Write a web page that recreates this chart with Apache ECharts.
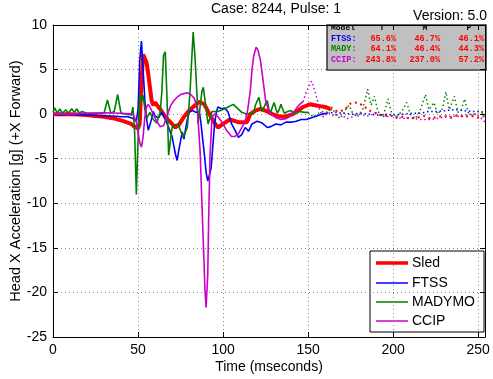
<!DOCTYPE html>
<html><head><meta charset="utf-8">
<script src="https://cdn.jsdelivr.net/npm/echarts@6/dist/echarts.min.js"></script>
<style>html,body{margin:0;padding:0;background:#fff}#c{width:493px;height:379px}</style>
</head><body><div id="c"></div>
<script>
// ---- data (time in ms, acceleration in g) ----
const sledTime  = [0,5,10,15,20,25,30,35,40,43,46,48,50,51,52,53,54,55,56,57,58,59,60,61,62,64,66,68,70,72,74,77,80,83,86,89,92,95,97,100,104,109,114,116,119,122,126,129,132,135,138,141,144,147,151,154,157,160,163];
const sledAccel = [0,0,0,-0.05,-0.1,-0.2,-0.3,-0.45,-0.7,-0.9,-1.1,-1.4,-1.6,-1.0,3.5,6.7,6.5,5.8,4.5,3.0,1.5,1.0,1.3,1.2,0.8,0.3,-0.3,-0.7,-1.1,-1.5,-1.2,-0.3,0.4,0.9,1.4,1.1,0.0,-1.0,-1.5,-1.1,-0.6,-0.9,-0.9,0.0,0.4,0.6,0.3,0.0,-0.2,-0.3,-0.2,0.0,0.4,0.8,1.1,1.0,0.9,0.8,0.6];
const sledExtTime  = [163,166,169,172,175,178,181,184,187,190,194,198,202,206,210,214,218,222,226,230,234,238,242,246,250,254];
const sledExtAccel = [0.6,0.4,0.3,0.6,1.2,1.3,1.1,0.7,0.3,0.1,-0.2,-0.1,-0.4,-0.3,-0.5,-0.4,-0.2,-0.5,-0.3,-0.2,-0.4,-0.1,-0.3,-0.2,-0.4,-0.2];

const ftssTime  = [0,5,10,15,20,25,30,35,40,44,47,49,50,51,52,53,54,55,56,57,58,59,60,62,64,66,68,70,71,72,73,74,75,76,77,78,79,80,82,84,86,87,88,89,90,91,92,93,94,95,96,97,99,101,103,105,107,109,111,113,115,117,120,123,126,128,131,134,137,140,143,146,149,152,155,158,161];
const ftssAccel = [0,-0.1,0,-0.1,-0.1,-0.15,-0.2,-0.2,-0.3,-0.3,-0.5,-0.8,0.5,6,8.2,5,1.5,-0.5,-1.8,-1.2,-0.5,0.3,-0.2,-0.4,0.2,-0.6,-1.5,-2.5,-3.5,-4.5,-5.2,-4.0,-3.0,-2.0,-2.8,-1.6,-0.6,0.2,0.4,0.2,0.3,-1.0,-2.8,-4.5,-6.5,-7.5,-6.8,-6.0,-3.5,-1.1,0.2,0.8,0.6,0.7,0.2,-1.1,-1.8,-2.6,-2.3,-1.5,-1.9,-1.1,-0.8,-1.0,-1.5,-1.4,-1.1,-1.2,-0.9,-0.9,-0.8,-0.6,-0.6,-0.4,-0.2,0.0,0.1];
const ftssExtTime  = [161,166,171,176,181,186,191,196,201,206,211,216,221,226,231,236,241,246,251,254];
const ftssExtAccel = [0.1,0.2,0.1,0.0,0.1,0.0,-0.1,0.0,-0.1,0.0,0.1,0.1,0.3,0.3,0.4,0.5,0.4,0.3,0.3,0.2];

const madyTime  = [0,1,2.5,4,5.5,7.5,9,11,12.5,14,15.5,17,20,25,30,32,34,36,38,40,43,46,47,48,49,50,51,52,53,54,55,57,59,61,63,64,65,66,67,68,69,70,72,73.5,76.5,79,80.6,82.4,83.5,84.7,85.3,87.6,88.4,90.6,91.2,93.5,97,101,106,111,114,116,118,119,121,122,123,125,126,127,128,129,130,131,132,133,134,135,136,138,140,142,145,148,150];
const madyAccel = [0.2,0.7,0.1,0.6,0.1,0.5,0.1,0.6,0.2,0.6,0.1,0.3,0.1,0.1,0.1,1.6,0.1,0.3,2.2,0.1,0.0,-0.1,0.8,-2,-9.0,-3,2.3,1.5,2.1,0.5,-0.5,0.2,-0.6,-1.0,0.2,2.5,6.6,7.0,2.0,-4.6,-3,-1.5,-1.2,-1.1,-2.6,-1.5,2.6,9.2,6.4,2.0,-1.1,2.6,3.0,-0.3,-1.1,0.3,0.3,0.6,1.1,0.2,0.0,0.1,0.2,1.0,1.9,1.0,0.3,1.2,1.5,0.5,0.2,0.8,1.3,0.6,0.1,0.5,1.1,0.6,0.1,0.3,0.4,0.0,0.3,0.2,0.2];
const madyExtTime  = [150,153,156,159,162,164,166,169,172,174,176,179,182,184,185,187,189,191,194,197,199,202,205,208,210,213,216,219,221,224,226,229,231,233,236,238,240,242,244,247,250,254];
const madyExtAccel = [0.2,-0.3,0.1,0.3,0.2,0.8,0.0,-0.5,0.5,1.0,0.2,-0.3,0.5,2.0,2.8,1.0,2.0,0.3,-0.3,1.7,0.2,-0.3,0.3,1.3,0.0,-0.5,0.5,2.2,0.5,1.3,0.0,0.6,2.5,0.5,2.0,0.2,0.5,1.7,0.2,-0.2,0.3,0.0];

const ccipTime  = [0,10,20,30,40,45,47,49,50,51,52,53,54,55,56,57,59,61,63,65,67,69,71,73,75,77,79,81,83,84,85,86.5,88,89.4,90,91,91.5,92.3,93.5,95,97,99,102,105,107,109,111,113,114.5,116,117,118,119.4,120.5,122,123.5,125,126.5,128,131,134,137,139,141,143,145,147];
const ccipAccel = [0,0,0.1,0.15,0.1,0.05,0,-0.8,-2.0,-3.2,-3.7,-2.5,-0.3,0.8,1.1,0.8,0.0,-0.8,-1.4,-1.3,-0.2,0.9,1.5,1.9,2.2,2.3,2.4,2.2,1.8,1.2,0.3,-4.2,-12.4,-19.9,-21.7,-18,-12,-4.8,-0.3,0.0,-0.3,-0.8,-1.8,-2.5,-2.5,-2.2,-1.5,-0.8,0.5,2.6,5,6.5,7.5,7.2,6.0,3.8,1.5,0.6,0.0,-0.4,-0.6,-0.5,-0.3,0.1,0.6,1.1,1.4];
const ccipExtTime  = [147,149,151,152,153,155,157,159,162,165,169,173,176,180,185,190,195,200,205,210,216,222,228,235,240,245,249,252,254];
const ccipExtAccel = [1.4,2.5,3.4,3.7,3.2,1.9,0.3,-0.3,0.2,-0.2,0.0,-0.5,-0.3,0.0,-0.2,0.1,-0.3,-0.2,-0.5,-0.4,-0.6,-0.6,-0.4,-0.2,-0.3,0.0,0.0,-0.5,-0.9];

const legendNames = ['Sled','FTSS','MADYMO','CCIP'];
const tableHeader = ['Model','T','M','P'];
const tableModels = ['FTSS:','MADY:','CCIP:'];
const tableT = ['65.6%','64.1%','243.8%'];
const tableM = ['46.7%','46.4%','237.0%'];
const tableP = ['46.1%','44.3%','57.2%'];

const RED='#ff0000', BLUE='#0000ff', GREEN='#008000', MAG='#cc00cc';
const FONT='"Liberation Sans", Arial, sans-serif';
const MONO='"Liberation Mono", monospace';
const zip=(t,v)=>t.map((x,i)=>[x,v[i]]);

function solid(name,t,v,color,w){return {name,type:'line',data:zip(t,v),showSymbol:false,symbol:'none',
  lineStyle:{color,width:w},itemStyle:{color},animation:false,clip:true};}
function dotted(name,t,v,color,w){return {name,type:'line',data:zip(t,v),showSymbol:false,symbol:'none',
  lineStyle:{color,width:w,type:[w,w*1.8]},itemStyle:{color},animation:false,clip:true};}

const chart=echarts.init(document.getElementById('c'),null,{renderer:'canvas'});

// stats table (graphic)
const modelColors=[BLUE,GREEN,MAG];
const tableTexts=[];
tableTexts.push({type:'text',x:331,y:24,style:{text:tableHeader[0],font:'bold 8px '+MONO,fill:'#000'}});
[[382,1],[425,2],[469,3]].forEach(([x,i])=>tableTexts.push({type:'text',x:x,y:24,style:{text:tableHeader[i],font:'bold 8px '+MONO,fill:'#000',textAlign:'center'}}));
const rowsY=[34,44.5,55.5];
tableModels.forEach((m,i)=>{
  tableTexts.push({type:'text',x:331,y:rowsY[i],style:{text:m,font:'bold 8.5px '+MONO,fill:modelColors[i]}});
  tableTexts.push({type:'text',x:396,y:rowsY[i],style:{text:tableT[i],font:'bold 8.5px '+MONO,fill:RED,textAlign:'right'}});
  tableTexts.push({type:'text',x:440,y:rowsY[i],style:{text:tableM[i],font:'bold 8.5px '+MONO,fill:RED,textAlign:'right'}});
  tableTexts.push({type:'text',x:484,y:rowsY[i],style:{text:tableP[i],font:'bold 8.5px '+MONO,fill:RED,textAlign:'right'}});
});

// legend box (graphic, to get MATLAB-style plain line keys)
const legendColors=[RED,BLUE,GREEN,MAG];
const legendWidths=[3.5,1.5,1.5,1.5];
const legendY=[263,283,302,321];
const legendEls=[{type:'rect',shape:{x:370,y:251,width:114,height:81},style:{fill:'#fff',stroke:'#000',lineWidth:1}}];
legendNames.forEach((n,i)=>{
  legendEls.push({type:'line',shape:{x1:376,y1:legendY[i],x2:408,y2:legendY[i]},style:{stroke:legendColors[i],lineWidth:legendWidths[i]}});
  legendEls.push({type:'text',x:412,y:legendY[i],style:{text:n,font:'14px '+FONT,fill:'#000',textVerticalAlign:'middle',verticalAlign:'middle'}});
});

const splitStyle={show:true,lineStyle:{color:'#888',type:[1,3],width:1}};
const axisLineStyle={show:true,onZero:false,lineStyle:{color:'#000',width:1}};
const tickStyle={inside:true,length:5,lineStyle:{color:'#000'}};
chart.setOption({
  backgroundColor:'#fff',
  animation:false,
  grid:{left:53,top:25,width:432,height:312,show:false,containLabel:false,outerBoundsMode:'none'},
  xAxis:[{type:'value',min:0,max:254,interval:50,position:'bottom',
      axisLine:axisLineStyle,axisTick:tickStyle,
      axisLabel:{fontSize:14,color:'#000',fontFamily:FONT,margin:6,formatter:v=>(v%50===0?String(v):'')},
      splitLine:splitStyle,
      name:'Time (mseconds)',nameLocation:'middle',nameGap:23,nameMoveOverlap:false,nameTextStyle:{fontSize:14,color:'#000',fontFamily:FONT}},
    {type:'value',min:0,max:254,interval:50,position:'top',
      axisLine:axisLineStyle,axisTick:tickStyle,axisLabel:{show:false},splitLine:{show:false}}],
  yAxis:[{type:'value',min:-25,max:10,interval:5,position:'left',
      axisLine:axisLineStyle,axisTick:tickStyle,
      axisLabel:{fontSize:14,color:'#000',fontFamily:FONT,margin:6},
      splitLine:splitStyle,
      name:'Head X Acceleration [g] (+X Forward)',nameLocation:'middle',nameGap:30,nameMoveOverlap:false,nameTextStyle:{fontSize:14.5,color:'#000',fontFamily:FONT}},
    {type:'value',min:-25,max:10,interval:5,position:'right',
      axisLine:axisLineStyle,axisTick:tickStyle,axisLabel:{show:false},splitLine:{show:false}}],
  series:[
    solid('Sled',sledTime,sledAccel,RED,4),
    solid('FTSS',ftssTime,ftssAccel,BLUE,1.6),
    solid('MADYMO',madyTime,madyAccel,GREEN,1.6),
    solid('CCIP',ccipTime,ccipAccel,MAG,1.6),
    dotted('Sled (ext)',sledExtTime,sledExtAccel,RED,2),
    dotted('FTSS (ext)',ftssExtTime,ftssExtAccel,BLUE,1.5),
    dotted('MADYMO (ext)',madyExtTime,madyExtAccel,GREEN,1.5),
    dotted('CCIP (ext)',ccipExtTime,ccipExtAccel,MAG,1.5)
  ],
  graphic:[
    {type:'text',x:276,y:2,style:{text:'Case: 8244, Pulse: 1',font:'14px '+FONT,fill:'#000',textAlign:'center'}},
    {type:'text',x:487,y:9,style:{text:'Version: 5.0',font:'14px '+FONT,fill:'#000',textAlign:'right'}},
    {type:'group',z:30,children:[
      {type:'rect',shape:{x:327,y:25,width:159,height:45},style:{fill:'#c0c0c0',stroke:'#333',lineWidth:1.5}},
      ...tableTexts
    ]},
    {type:'group',z:30,children:legendEls}
  ]
});
</script></body></html>
